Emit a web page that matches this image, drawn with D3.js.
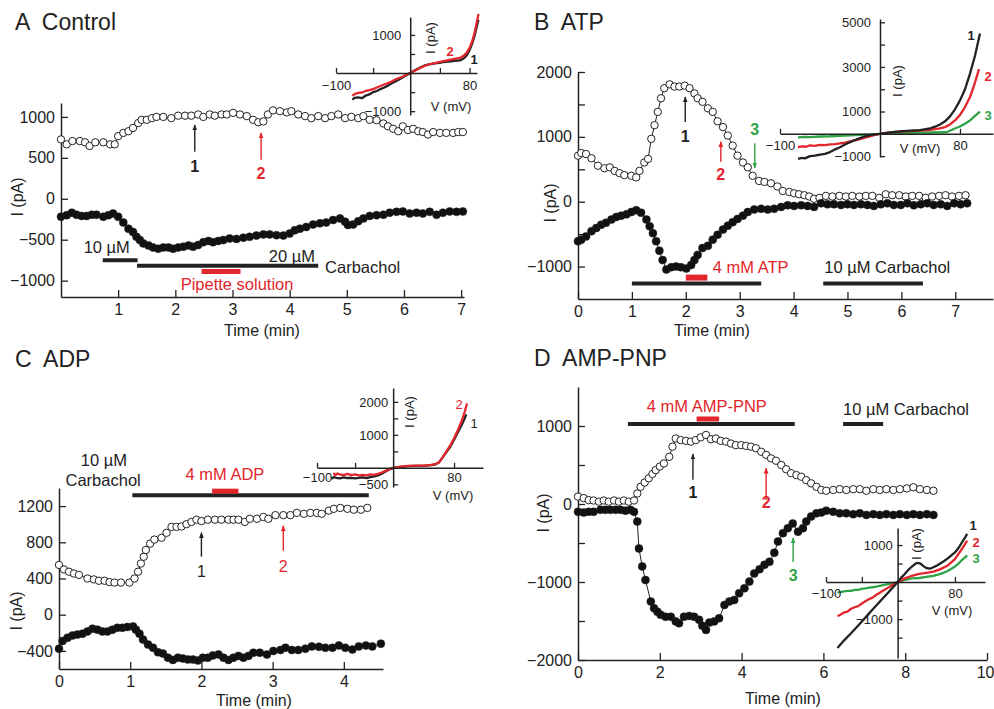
<!DOCTYPE html>
<html>
<head>
<meta charset="utf-8">
<script src="https://cdn.jsdelivr.net/npm/d3@7"></script>
<style>
  body { margin: 0; background: #fff; }
  svg text { font-family: "Liberation Sans", Arial, sans-serif; fill: #222; }
  .axis .domain { stroke: #222; stroke-width: 1.5px; }
  .axis line { stroke: #222; stroke-width: 1.3px; }
</style>
</head>
<body>
<svg id="fig"></svg>
<script>
// ---- colours
const BLACK = "#222222";
const RED = "#e3262b";
const GREEN = "#2fa447";

// ---- panel A: Control  [time (min), current (pA)]
const A_open = [[0,725],[0.1,665],[0.2,705],[0.33,705],[0.42,690],[0.5,645],[0.6,690],[0.74,690],[0.86,665],[0.94,665],
  [1.0,765],[1.09,805],[1.18,825],[1.26,865],[1.35,925],[1.41,965],[1.5,965],[1.59,985],[1.67,1000],[1.79,1000],
  [1.93,985],[2.05,1015],[2.17,1015],[2.28,1015],[2.4,1030],[2.49,1000],[2.6,1030],[2.69,1015],[2.81,1030],[2.9,1030],
  [3.01,1050],[3.13,1030],[3.25,1010],[3.36,965],[3.45,935],[3.54,945],[3.62,1030],[3.71,1080],[3.83,1070],[3.95,1055],
  [4.03,1070],[4.15,1030],[4.27,1010],[4.38,985],[4.5,1010],[4.62,985],[4.73,1010],[4.85,1030],[4.97,985],[5.08,1000],
  [5.2,985],[5.29,1010],[5.4,965],[5.52,960],[5.64,920],[5.72,885],[5.81,855],[5.9,825],[5.98,885],[6.07,840],
  [6.16,855],[6.25,825],[6.33,815],[6.42,785],[6.51,815],[6.63,805],[6.74,805],[6.86,805],[6.95,815],[7.03,815]];
const A_fill = [[0,-220],[0.1,-200],[0.19,-170],[0.27,-195],[0.36,-210],[0.45,-210],[0.54,-195],[0.62,-195],[0.74,-220],[0.83,-200],
  [0.91,-180],[1.0,-220],[1.09,-290],[1.18,-365],[1.26,-405],[1.32,-465],[1.38,-505],[1.44,-545],[1.53,-570],[1.61,-595],
  [1.7,-610],[1.79,-595],[1.88,-595],[1.96,-610],[2.05,-595],[2.14,-585],[2.23,-570],[2.31,-585],[2.4,-565],[2.49,-530],
  [2.58,-515],[2.66,-530],[2.75,-515],[2.84,-505],[2.95,-485],[3.07,-490],[3.19,-475],[3.3,-465],[3.42,-450],[3.54,-435],
  [3.65,-435],[3.77,-445],[3.89,-450],[4.0,-425],[4.09,-385],[4.18,-365],[4.29,-345],[4.41,-315],[4.53,-300],[4.64,-290],
  [4.76,-260],[4.88,-240],[4.97,-280],[5.02,-320],[5.11,-315],[5.2,-275],[5.29,-240],[5.4,-210],[5.52,-200],[5.64,-195],
  [5.75,-170],[5.87,-160],[5.98,-155],[6.1,-180],[6.22,-170],[6.33,-180],[6.45,-160],[6.57,-195],[6.68,-170],[6.8,-155],
  [6.92,-160],[7.03,-155]];
// inset A  [V (mV), I (pA)]
const A_iv1 = [[-78,-700],[-75,-650],[-70,-640],[-65,-660],[-60,-590],[-55,-560],[-50,-500],[-45,-470],[-40,-420],[-35,-380],
  [-30,-330],[-25,-270],[-20,-220],[-15,-170],[-10,-110],[-5,-60],[0,0],[5,60],[10,110],[15,160],[20,200],[25,230],[30,240],
  [35,260],[40,270],[45,290],[50,300],[55,310],[60,320],[67,330],[72,380],[76,460],[80,600],[84,800],[87,1000],[90,1250],[92,1400]];
const A_iv2 = [[-78,-600],[-75,-550],[-70,-520],[-65,-510],[-60,-470],[-55,-450],[-50,-420],[-45,-380],[-40,-340],[-35,-300],
  [-30,-260],[-25,-220],[-20,-170],[-15,-130],[-10,-90],[-5,-40],[0,0],[5,50],[10,100],[15,150],[20,190],[25,230],[30,250],
  [35,270],[40,290],[45,310],[50,330],[55,350],[60,370],[67,400],[72,450],[76,530],[80,660],[84,860],[87,1080],[90,1350],[92,1550]];

// ---- panel B: ATP
const B_open = [[0,710],[0.06,750],[0.15,735],[0.25,670],[0.37,555],[0.49,515],[0.59,530],[0.68,475],[0.77,440],[0.86,410],
  [0.99,400],[1.08,375],[1.14,475],[1.23,605],[1.3,660],[1.36,970],[1.42,1180],[1.48,1385],[1.54,1595],[1.6,1750],
  [1.7,1810],[1.79,1775],[1.88,1775],[1.98,1790],[2.07,1750],[2.16,1670],[2.22,1595],[2.31,1540],[2.41,1440],[2.5,1385],
  [2.59,1240],[2.69,1150],[2.78,1020],[2.87,865],[2.96,710],[3.06,605],[3.15,530],[3.24,400],[3.36,320],[3.46,305],
  [3.58,285],[3.7,235],[3.8,165],[3.92,150],[4.01,130],[4.1,115],[4.2,100],[4.29,80],[4.38,45],[4.48,60],
  [4.6,90],[4.72,80],[4.85,90],[4.97,80],[5.09,90],[5.22,80],[5.34,90],[5.46,90],[5.59,60],[5.71,115],
  [5.83,100],[5.96,100],[6.08,80],[6.2,90],[6.33,90],[6.45,60],[6.57,80],[6.7,90],[6.82,100],[6.94,80],[7.07,90],[7.19,100]];
const B_fill = [[0,-610],[0.06,-585],[0.15,-535],[0.25,-455],[0.34,-405],[0.43,-355],[0.52,-325],[0.62,-275],[0.71,-235],[0.8,-215],
  [0.9,-195],[0.99,-160],[1.08,-130],[1.17,-170],[1.27,-275],[1.33,-380],[1.39,-485],[1.45,-610],[1.51,-755],[1.57,-900],
  [1.64,-1045],[1.73,-1010],[1.82,-1000],[1.91,-1010],[2.01,-1030],[2.1,-975],[2.16,-900],[2.22,-820],[2.31,-715],[2.41,-680],
  [2.5,-585],[2.59,-510],[2.69,-430],[2.78,-370],[2.87,-315],[2.96,-265],[3.06,-215],[3.15,-160],[3.27,-120],[3.4,-110],
  [3.52,-120],[3.64,-110],[3.77,-80],[3.89,-55],[4.01,-65],[4.14,-55],[4.26,-65],[4.38,-80],[4.51,-25],[4.63,-40],
  [4.75,-40],[4.88,-50],[5.0,-40],[5.12,-50],[5.25,-40],[5.37,-50],[5.49,-65],[5.62,-40],[5.74,-25],[5.86,-50],
  [5.99,-50],[6.11,-25],[6.23,-55],[6.36,-40],[6.48,-25],[6.6,-50],[6.73,-40],[6.85,-65],[6.98,-25],[7.1,-40],[7.22,-25]];
const B_iv1 = [[-82,-1120],[-78,-1080],[-75,-1100],[-70,-1000],[-65,-980],[-60,-930],[-55,-900],[-50,-820],[-45,-700],[-40,-600],
  [-35,-480],[-30,-380],[-25,-280],[-20,-190],[-15,-110],[-10,-60],[-5,-20],[0,0],[10,60],[20,110],[30,140],[40,170],[50,240],
  [55,320],[60,420],[65,560],[70,780],[75,1100],[80,1500],[85,2000],[90,2700],[95,3500],[100,4500]];
const B_iv2 = [[-82,-600],[-78,-560],[-74,-580],[-70,-520],[-65,-540],[-60,-500],[-55,-510],[-50,-470],[-45,-460],[-40,-430],
  [-35,-400],[-30,-340],[-25,-290],[-20,-240],[-15,-170],[-10,-110],[-5,-50],[0,0],[10,60],[20,100],[30,120],[40,140],[50,180],
  [60,240],[65,300],[70,420],[75,600],[80,850],[85,1200],[90,1650],[95,2300],[99,2900]];
const B_iv3 = [[-82,-160],[-75,-140],[-70,-150],[-60,-120],[-50,-110],[-40,-90],[-30,-70],[-20,-50],[-10,-30],[0,0],[10,20],
  [20,30],[30,40],[40,50],[50,60],[60,70],[67,80],[72,180],[76,260],[80,330],[85,450],[90,600],[95,800],[100,1000]];

// ---- panel C: ADP
const C_open = [[0,550],[0.07,500],[0.14,475],[0.21,455],[0.28,440],[0.4,400],[0.49,390],[0.56,375],[0.64,375],[0.71,360],
  [0.78,355],[0.87,355],[0.99,355],[1.06,400],[1.11,475],[1.15,565],[1.19,640],[1.22,715],[1.28,785],[1.34,830],
  [1.44,850],[1.51,905],[1.58,970],[1.65,970],[1.72,975],[1.79,1000],[1.86,1025],[1.93,1050],[2.0,1035],[2.09,1050],
  [2.19,1050],[2.28,1050],[2.38,1050],[2.45,1050],[2.52,1050],[2.61,1025],[2.68,1060],[2.78,1060],[2.87,1080],[2.94,1060],
  [3.04,1100],[3.15,1100],[3.25,1100],[3.34,1125],[3.44,1115],[3.53,1125],[3.62,1125],[3.69,1115],[3.79,1150],[3.86,1170],
  [3.95,1180],[4.05,1170],[4.14,1160],[4.24,1160],[4.33,1180]];
const C_fill = [[0,-375],[0.05,-290],[0.12,-255],[0.19,-230],[0.26,-220],[0.33,-210],[0.4,-185],[0.47,-155],[0.54,-165],[0.61,-185],
  [0.68,-185],[0.75,-165],[0.82,-145],[0.89,-145],[0.96,-135],[1.04,-130],[1.08,-165],[1.13,-210],[1.18,-275],[1.25,-330],
  [1.32,-365],[1.39,-415],[1.46,-430],[1.53,-475],[1.6,-500],[1.67,-475],[1.74,-485],[1.81,-495],[1.88,-495],[1.95,-505],
  [2.02,-475],[2.09,-475],[2.16,-450],[2.24,-440],[2.31,-475],[2.38,-500],[2.45,-475],[2.52,-455],[2.59,-475],[2.66,-455],
  [2.73,-420],[2.82,-420],[2.92,-440],[3.01,-400],[3.11,-390],[3.18,-365],[3.27,-390],[3.36,-390],[3.46,-375],[3.55,-350],
  [3.65,-355],[3.74,-365],[3.84,-365],[3.93,-340],[4.02,-365],[4.12,-385],[4.21,-350],[4.31,-340],[4.4,-350],[4.52,-320]];
const C_iv1 = [[-81,-330],[-78,-280],[-75,-300],[-70,-320],[-65,-290],[-60,-310],[-55,-300],[-50,-320],[-45,-300],[-40,-290],
  [-35,-310],[-30,-280],[-25,-260],[-20,-230],[-15,-180],[-10,-110],[-5,-50],[0,0],[10,30],[20,50],[30,60],[40,60],[50,80],
  [55,100],[60,160],[65,320],[70,480],[75,640],[80,850],[85,1080],[90,1300],[94,1500],[96,1620]];
const C_iv2 = [[-78,-150],[-76,-230],[-73,-170],[-70,-200],[-65,-220],[-60,-180],[-55,-220],[-50,-200],[-45,-230],[-40,-210],
  [-35,-230],[-30,-200],[-25,-210],[-20,-180],[-15,-140],[-10,-90],[-5,-40],[0,0],[10,40],[20,60],[30,70],[40,70],[50,90],
  [55,110],[60,160],[65,320],[70,500],[75,680],[80,900],[85,1150],[90,1420],[94,1700],[97,1950]];

// ---- panel D: AMP-PNP
const D_open = [[0,95],[0.14,75],[0.26,50],[0.38,45],[0.51,30],[0.63,45],[0.75,30],[0.88,45],[1.0,30],[1.12,45],
  [1.24,30],[1.37,45],[1.45,135],[1.53,220],[1.63,275],[1.73,330],[1.82,385],[1.9,435],[2.0,480],[2.1,520],
  [2.23,605],[2.31,735],[2.39,840],[2.51,820],[2.64,810],[2.76,800],[2.88,820],[3.0,855],[3.13,885],[3.25,830],
  [3.37,840],[3.49,810],[3.62,800],[3.74,775],[3.86,755],[3.99,755],[4.11,745],[4.23,735],[4.35,715],[4.48,670],
  [4.6,630],[4.72,585],[4.84,555],[4.97,500],[5.09,445],[5.21,395],[5.34,370],[5.46,350],[5.58,305],[5.7,265],
  [5.83,220],[5.95,180],[6.07,170],[6.24,180],[6.4,190],[6.56,180],[6.73,190],[6.89,190],[7.05,170],[7.22,190],
  [7.38,180],[7.54,190],[7.71,180],[7.87,190],[8.04,200],[8.2,215],[8.36,190],[8.53,180],[8.69,170]];
const D_fill = [[0,-100],[0.14,-110],[0.26,-100],[0.38,-100],[0.55,-75],[0.67,-75],[0.79,-75],[0.92,-75],[1.04,-75],[1.16,-85],
  [1.28,-75],[1.37,-100],[1.45,-225],[1.49,-570],[1.57,-800],[1.65,-975],[1.78,-1250],[1.86,-1335],[1.94,-1380],[2.02,-1420],
  [2.14,-1445],[2.27,-1445],[2.39,-1505],[2.47,-1530],[2.59,-1445],[2.72,-1435],[2.84,-1445],[2.96,-1485],[3.04,-1560],[3.13,-1615],
  [3.21,-1520],[3.33,-1505],[3.45,-1465],[3.58,-1295],[3.7,-1250],[3.82,-1230],[3.94,-1145],[4.07,-1080],[4.19,-995],[4.31,-890],
  [4.44,-835],[4.56,-780],[4.68,-740],[4.8,-625],[4.89,-480],[5.01,-375],[5.13,-310],[5.25,-250],[5.38,-355],[5.5,-310],
  [5.58,-225],[5.7,-160],[5.83,-120],[5.95,-110],[6.07,-85],[6.24,-100],[6.4,-120],[6.56,-120],[6.73,-130],[6.89,-120],
  [7.05,-140],[7.22,-130],[7.38,-140],[7.54,-130],[7.71,-140],[7.87,-130],[8.04,-140],[8.2,-130],[8.36,-140],[8.53,-130],[8.69,-140]];
const D_iv1 = [[-84,-1780],[-75,-1580],[-65,-1380],[-55,-1170],[-45,-960],[-35,-740],[-25,-530],[-15,-320],[-5,-110],[0,0],
  [5,120],[10,220],[15,330],[20,420],[25,500],[28,520],[32,500],[36,430],[40,380],[45,360],[50,400],[55,450],[60,510],
  [65,570],[70,640],[75,720],[80,800],[85,920],[90,1080],[95,1230],[97,1300]];
const D_iv2 = [[-84,-920],[-80,-880],[-75,-820],[-70,-800],[-65,-720],[-60,-680],[-55,-650],[-50,-580],[-45,-520],[-40,-460],
  [-35,-420],[-30,-350],[-25,-290],[-20,-230],[-15,-170],[-10,-110],[-5,-50],[0,0],[10,100],[20,170],[30,220],[40,250],
  [50,280],[60,350],[70,450],[80,620],[85,760],[90,900],[95,1050],[97,1120]];
const D_iv3 = [[-84,-280],[-80,-270],[-75,-250],[-70,-240],[-65,-240],[-60,-210],[-55,-210],[-50,-180],[-45,-170],[-40,-150],
  [-35,-140],[-30,-120],[-25,-100],[-20,-80],[-15,-60],[-10,-40],[-5,-20],[0,0],[10,60],[20,100],[30,110],[40,140],
  [50,170],[60,220],[70,300],[80,420],[85,500],[90,600],[95,680],[97,720]];

// ---- tick values
const A_xTicks = [1, 2, 3, 4, 5, 6, 7];
const A_yTicks = [1000, 500, 0, -500, -1000];
const B_xTicks = [0, 1, 2, 3, 4, 5, 6, 7];
const B_yTicks = [2000, 1500, 1000, 500, 0, -500, -1000];
const B_yLabels = [2000, 1000, 0, -1000];
const C_xTicks = [0, 1, 2, 3, 4];
const C_yTicks = [1200, 800, 400, 0, -400];
const D_xTicks = [0, 2, 4, 6, 8, 10];
const D_yTicks = [1000, 500, 0, -500, -1000, -1500, -2000];
const D_yLabels = [1000, 0, -1000, -2000];

const svg = d3.select("#fig").attr("width", 994).attr("height", 709);
const minus = d => String(d).replace("-", "\u2212");

// arrow heads
const defs = svg.append("defs");
[["k", BLACK], ["r", RED], ["g", GREEN]].forEach(([id, c]) => {
  defs.append("marker").attr("id", "ah-" + id)
    .attr("viewBox", "0 0 10 10").attr("refX", 9).attr("refY", 5)
    .attr("markerWidth", 6).attr("markerHeight", 7)
    .attr("markerUnits", "userSpaceOnUse").attr("orient", "auto")
    .append("path").attr("d", "M0,1L10,5L0,9z").attr("fill", c);
});
const headId = c => (c === RED ? "ah-r" : c === GREEN ? "ah-g" : "ah-k");

function mainPanel(p) {
  const x = d3.scaleLinear().domain(p.xDomain).range(p.xRange);
  const y = d3.scaleLinear().domain(p.yDomain).range(p.yRange);
  const g = svg.append("g");
  const labs = p.yLabels || p.yTicks;

  const xa = g.append("g").attr("class", "axis")
    .attr("transform", `translate(0,${p.yRange[0]})`)
    .call(d3.axisBottom(x).tickValues(p.xTicks).tickFormat(d => d)
      .tickSize(-7).tickSizeOuter(0).tickPadding(7));
  xa.selectAll("text").style("font-size", "16px").attr("fill", BLACK);
  // a last label that would run past the page edge is pulled in
  xa.selectAll("text").filter(d => x(d) + 10 > 994).attr("text-anchor", "end").attr("x", 994 - x.range()[1]);

  g.append("g").attr("class", "axis")
    .attr("transform", `translate(${p.xRange[0]},0)`)
    .call(d3.axisLeft(y).tickValues(p.yTicks).tickFormat(d => (labs.includes(d) ? minus(d) : ""))
      .tickSize(-7).tickSizeOuter(0).tickPadding(6))
    .selectAll("text").style("font-size", "16px").attr("fill", BLACK);

  // panel title
  g.append("text").attr("x", p.title[1]).attr("y", p.title[2])
    .style("font-size", "23px").style("white-space", "pre").text(p.title[0]);
  // axis titles
  g.append("text").attr("x", p.xLab[0]).attr("y", p.xLab[1]).attr("dy", "0.35em")
    .attr("text-anchor", "middle").style("font-size", "16px").text("Time (min)");
  g.append("text").attr("transform", `translate(${p.yLab[0]},${p.yLab[1]}) rotate(-90)`)
    .attr("dy", "0.35em").attr("text-anchor", "middle").style("font-size", "16px").text("I (pA)");

  return { x, y, g };
}

function series(P, data, open) {
  P.g.append("path").datum(data)
    .attr("d", d3.line().x(d => P.x(d[0])).y(d => P.y(d[1])))
    .attr("fill", "none").attr("stroke", BLACK).attr("stroke-width", 1);
  P.g.append("g").selectAll("circle").data(data).join("circle")
    .attr("cx", d => P.x(d[0])).attr("cy", d => P.y(d[1]))
    .attr("r", open ? 3.7 : 4)
    .attr("fill", open ? "#fff" : "#111")
    .attr("stroke", BLACK).attr("stroke-width", open ? 1 : 0.5);
}

function annotate(P, a) {
  (a.bars || []).forEach(([t0, t1, v, c, w]) => {
    P.g.append("line").attr("x1", P.x(t0)).attr("x2", P.x(t1))
      .attr("y1", P.y(v)).attr("y2", P.y(v))
      .attr("stroke", c).attr("stroke-width", w);
  });
  (a.texts || []).forEach(([s, t, v, c, anchor]) => {
    P.g.append("text").attr("x", P.x(t)).attr("y", P.y(v)).attr("dy", "0.35em")
      .attr("text-anchor", anchor).style("font-size", "16.5px").style("fill", c).text(s);
  });
  (a.arrows || []).forEach(([t, vTail, vTip, c]) => {
    P.g.append("line").attr("x1", P.x(t)).attr("x2", P.x(t))
      .attr("y1", P.y(vTail)).attr("y2", P.y(vTip))
      .attr("stroke", c).attr("stroke-width", 1.4)
      .attr("marker-end", `url(#${headId(c)})`);
  });
  (a.nums || []).forEach(([s, t, v, c, bold]) => {
    P.g.append("text").attr("x", P.x(t)).attr("y", P.y(v)).attr("dy", "0.35em")
      .attr("text-anchor", "middle").style("font-size", "16px")
      .style("font-weight", bold ? "bold" : "normal").style("fill", c).text(s);
  });
}

function inset(o) {
  const x = d3.scaleLinear().domain(o.xDomain).range(o.xRange);
  const y = d3.scaleLinear().domain(o.yDomain).range(o.yRange);
  const g = svg.append("g");

  o.curves.forEach(([data, c]) => {
    g.append("path").datum(data)
      .attr("d", d3.line().x(d => x(d[0])).y(d => y(d[1])))
      .attr("fill", "none").attr("stroke", c).attr("stroke-width", 2.3)
      .attr("stroke-linejoin", "round");
  });

  g.append("g").attr("class", "axis")
    .attr("transform", `translate(0,${y(0)})`)
    .call(d3.axisBottom(x).tickValues(o.xTicks).tickFormat(d => (o.xLabels.includes(d) ? minus(d) : ""))
      .tickSize(-5).tickSizeOuter(0).tickPadding(o.xPad))
    .selectAll("text").style("font-size", "13px").attr("fill", BLACK);

  g.append("g").attr("class", "axis")
    .attr("transform", `translate(${x(0)},0)`)
    .call(d3.axisLeft(y).tickValues(o.yTicks).tickFormat(d => (o.yLabels.includes(d) ? minus(d) : ""))
      .tickSize(-5).tickSizeOuter(0).tickPadding(o.yPad))
    .selectAll("text").style("font-size", "13px").attr("fill", BLACK);

  g.append("text").attr("x", o.vLab[0]).attr("y", o.vLab[1]).attr("dy", "0.35em")
    .attr("text-anchor", "middle").style("font-size", "13px").text("V (mV)");
  g.append("text").attr("transform", `translate(${o.iLab[0]},${o.iLab[1]}) rotate(-90)`)
    .attr("dy", "0.35em").attr("text-anchor", "middle").style("font-size", "13px").text("I (pA)");

  o.nums.forEach(([s, px, py, c]) => {
    g.append("text").attr("x", px).attr("y", py).attr("dy", "0.35em")
      .attr("text-anchor", "middle").style("font-size", "13px")
      .style("font-weight", o.bold ? "bold" : "normal").style("fill", c).text(s);
  });
}

// ================= A
const PA = mainPanel({
  xDomain: [0, 7.05], xRange: [61, 464], yDomain: [-1200, 1170], yRange: [297, 103],
  xTicks: A_xTicks, yTicks: A_yTicks,
  title: ["A  Control", 15, 30], xLab: [262, 330], yLab: [17, 197]
});
annotate(PA, {
  bars: [[0.73, 1.34, -750, BLACK, 4], [1.33, 4.5, -817, BLACK, 4], [2.46, 3.14, -890, RED, 5]],
  texts: [["10 µM", 0.8, -598, BLACK, "middle"], ["20 µM", 4.04, -707, BLACK, "middle"],
          ["Carbachol", 4.62, -841, BLACK, "start"], ["Pipette solution", 3.08, -1049, RED, "middle"]],
  arrows: [[2.34, 573, 902, BLACK], [3.5, 476, 805, RED]],
  nums: [["1", 2.34, 390, BLACK, true], ["2", 3.5, 305, RED, true]]
});
series(PA, A_open, true);
series(PA, A_fill, false);
inset({
  xDomain: [-100, 90], xRange: [336, 477], yDomain: [-1100, 1470], yRange: [115, 17],
  xTicks: [-100, -50, 40, 80], xLabels: [-100, 80], yTicks: [1000, 500, -500, -1000], yLabels: [1000, -1000],
  xPad: 8, yPad: 9, curves: [[A_iv1, BLACK], [A_iv2, RED]],
  vLab: [451, 106], iLab: [430, 38], bold: true,
  nums: [["2", 450, 51, RED], ["1", 474, 59, BLACK]]
});

// ================= B
const PB = mainPanel({
  xDomain: [0, 7.7], xRange: [578, 993], yDomain: [-1500, 2000], yRange: [299, 72],
  xTicks: B_xTicks, yTicks: B_yTicks, yLabels: B_yLabels,
  title: ["B  ATP", 534, 30], xLab: [712, 330], yLab: [550, 203]
});
annotate(PB, {
  bars: [[1.0, 3.4, -1260, BLACK, 4], [4.55, 6.4, -1260, BLACK, 4], [2.0, 2.4, -1170, RED, 6]],
  texts: [["4 mM ATP", 2.5, -1015, RED, "start"], ["10 µM Carbachol", 4.57, -1015, BLACK, "start"]],
  arrows: [[1.99, 1230, 1615, BLACK], [2.65, 615, 925, RED], [3.28, 900, 520, GREEN]],
  nums: [["1", 1.99, 1000, BLACK, true], ["2", 2.65, 415, RED, true], ["3", 3.28, 1120, GREEN, true]]
});
series(PB, B_open, true);
series(PB, B_fill, false);
inset({
  xDomain: [-100, 113], xRange: [780, 993], yDomain: [-1040, 5150], yRange: [157, 19],
  xTicks: [-100, 80], xLabels: [-100, 80], yTicks: [5000, 4000, 3000, 2000, 1000, -1000], yLabels: [5000, 3000, 1000, -1000],
  xPad: 7, yPad: 9, curves: [[B_iv3, GREEN], [B_iv2, RED], [B_iv1, BLACK]],
  vLab: [920, 148], iLab: [897, 81], bold: true,
  nums: [["1", 971, 35, BLACK], ["2", 988, 76, RED], ["3", 988, 115, GREEN]]
});

// ================= C
const PC = mainPanel({
  xDomain: [0, 4.55], xRange: [59, 383], yDomain: [-600, 1400], yRange: [669, 488],
  xTicks: C_xTicks, yTicks: C_yTicks,
  title: ["C  ADP", 15, 367], xLab: [254, 700], yLab: [16, 611]
});
annotate(PC, {
  bars: [[1.03, 4.35, 1320, BLACK, 4], [2.15, 2.52, 1365, RED, 5]],
  texts: [["10 µM", 0.63, 1712, BLACK, "middle"], ["Carbachol", 0.62, 1490, BLACK, "middle"],
          ["4 mM ADP", 2.33, 1547, RED, "middle"]],
  arrows: [[2.0, 641, 906, BLACK], [3.15, 707, 983, RED]],
  nums: [["1", 2.0, 475, BLACK, false], ["2", 3.15, 530, RED, false]]
});
series(PC, C_open, true);
series(PC, C_fill, false);
inset({
  xDomain: [-100, 118], xRange: [317, 483], yDomain: [-580, 2420], yRange: [487, 388],
  xTicks: [-100, -50, 80], xLabels: [-100, 80], yTicks: [2000, 1500, 1000, 500, -500], yLabels: [2000, 1000, -500],
  xPad: 5, yPad: 5, curves: [[C_iv1, BLACK], [C_iv2, RED]],
  vLab: [453, 495], iLab: [409, 412], bold: false,
  nums: [["2", 459, 404, RED], ["1", 474, 423, BLACK]]
});

// ================= D
const PD = mainPanel({
  xDomain: [0, 10], xRange: [578, 987], yDomain: [-2000, 1500], yRange: [660, 387],
  xTicks: D_xTicks, yTicks: D_yTicks, yLabels: D_yLabels,
  title: ["D  AMP-PNP", 534, 366], xLab: [783, 698], yLab: [543, 513]
});
annotate(PD, {
  bars: [[1.22, 5.3, 1025, BLACK, 4], [6.48, 7.46, 1025, BLACK, 4], [2.9, 3.45, 1090, RED, 5]],
  texts: [["4 mM AMP-PNP", 3.15, 1255, RED, "middle"], ["10 µM Carbachol", 6.48, 1220, BLACK, "start"]],
  arrows: [[2.81, 310, 640, BLACK], [4.6, 50, 460, RED], [5.26, -745, -435, GREEN]],
  nums: [["1", 2.81, 155, BLACK, true], ["2", 4.6, 15, RED, true], ["3", 5.26, -910, GREEN, true]]
});
series(PD, D_open, true);
series(PD, D_fill, false);
inset({
  xDomain: [-100, 122], xRange: [826, 985], yDomain: [-2050, 1460], yRange: [658, 528],
  xTicks: [-100, -50, 80], xLabels: [-100, 80], yTicks: [1000, 500, -500, -1000, -1500], yLabels: [1000, -1000],
  xPad: 7, yPad: 5, curves: [[D_iv3, GREEN], [D_iv2, RED], [D_iv1, BLACK]],
  vLab: [952, 610], iLab: [916, 544], bold: true,
  nums: [["1", 973, 525, BLACK], ["2", 976, 542, RED], ["3", 976, 558, GREEN]]
});
</script>
</body>
</html>
